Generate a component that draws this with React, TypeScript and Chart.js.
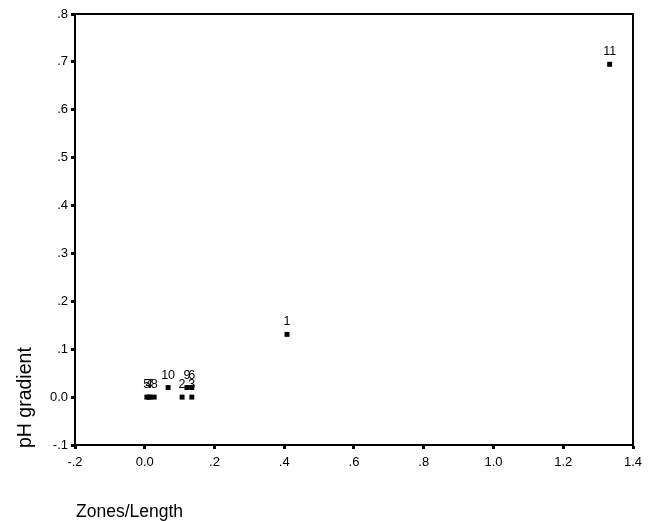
import React, { useEffect, useRef } from "react";
import { Chart, registerables } from "chart.js";

Chart.register(...registerables);

const caseLabels = ["1", "2", "3", "4", "5", "6", "7", "8", "9", "10", "11"];
const zonesPerLength = [0.408, 0.107, 0.135, 0.012, 0.006, 0.135, 0.015, 0.027, 0.121, 0.067, 1.333];
const phGradient = [0.131, 0, 0, 0, 0, 0.02, 0, 0, 0.02, 0.02, 0.695];

const xTitle = "Zones/Length";
const yTitle = "pH gradient";

const fmt = (v: number) => {
  const r = Math.round(v * 10) / 10;
  if (r === 0) return "0.0";
  const s = r.toFixed(1);
  if (Math.abs(r) >= 1) return s;
  return s.replace("0.", ".");
};

const FONT = "'Liberation Sans', Arial, sans-serif";

const decorPlugin = {
  id: "decor",
  afterDatasetsDraw(chart: any) {
    const { ctx, chartArea } = chart;
    const xs = chart.scales.x;
    const ys = chart.scales.y;
    ctx.save();
    ctx.strokeStyle = "#000";
    ctx.lineWidth = 2;
    ctx.beginPath();
    ctx.moveTo(chartArea.left, chartArea.top);
    ctx.lineTo(chartArea.right, chartArea.top);
    ctx.lineTo(chartArea.right, chartArea.bottom);
    ctx.stroke();
    ctx.fillStyle = "#000";
    ctx.font = `12.5px ${FONT}`;
    ctx.textAlign = "center";
    ctx.textBaseline = "alphabetic";
    for (let i = 0; i < caseLabels.length; i++) {
      const px = xs.getPixelForValue(zonesPerLength[i]);
      const py = ys.getPixelForValue(phGradient[i]);
      ctx.fillText(caseLabels[i], px, py - 9);
    }
    ctx.font = `17.5px ${FONT}`;
    ctx.textAlign = "left";
    ctx.textBaseline = "middle";
    ctx.fillText(xTitle, 76, 512);
    ctx.font = `19.5px ${FONT}`;
    ctx.translate(26, 448);
    ctx.rotate(-Math.PI / 2);
    ctx.fillText(yTitle, 0, 0);
    ctx.restore();
  },
};

export default function App() {
  const ref = useRef<HTMLCanvasElement | null>(null);
  useEffect(() => {
    document.body.style.margin = "0";
    const points = zonesPerLength.map((x, i) => ({ x, y: phGradient[i] }));
    const chart = new Chart(ref.current!, {
      type: "scatter",
      data: {
        datasets: [
          {
            data: points,
            pointStyle: "rect",
            pointRadius: 3.5,
            backgroundColor: "#000",
            borderColor: "#000",
            borderWidth: 0,
          },
        ],
      },
      options: {
        animation: false,
        responsive: false,
        devicePixelRatio: 1,
        layout: { padding: { left: 0, top: 14, right: 23, bottom: 0 } },
        plugins: { legend: { display: false }, tooltip: { enabled: false } },
        scales: {
          x: {
            type: "linear",
            min: -0.2,
            max: 1.4,
            ticks: {
              stepSize: 0.2,
              color: "#000",
              font: { size: 13, family: FONT },
              padding: 6,
              maxRotation: 0,
              callback: (v: any) => fmt(Number(v)),
            },
            grid: { drawOnChartArea: false, tickLength: 4, tickWidth: 3, tickColor: "#000" },
            border: { color: "#000", width: 2 },
            afterFit: (s: any) => {
              s.height = 76;
            },
          },
          y: {
            type: "linear",
            min: -0.1,
            max: 0.8,
            ticks: {
              stepSize: 0.1,
              color: "#000",
              font: { size: 13, family: FONT },
              padding: 3,
              callback: (v: any) => fmt(Number(v)),
            },
            grid: { drawOnChartArea: false, tickLength: 4, tickWidth: 3, tickColor: "#000" },
            border: { color: "#000", width: 2 },
            afterFit: (s: any) => {
              s.width = 75;
            },
          },
        },
      },
      plugins: [decorPlugin],
    } as any);
    return () => chart.destroy();
  }, []);
  return <canvas ref={ref} width={656} height={521} style={{ display: "block" }} />;
}
